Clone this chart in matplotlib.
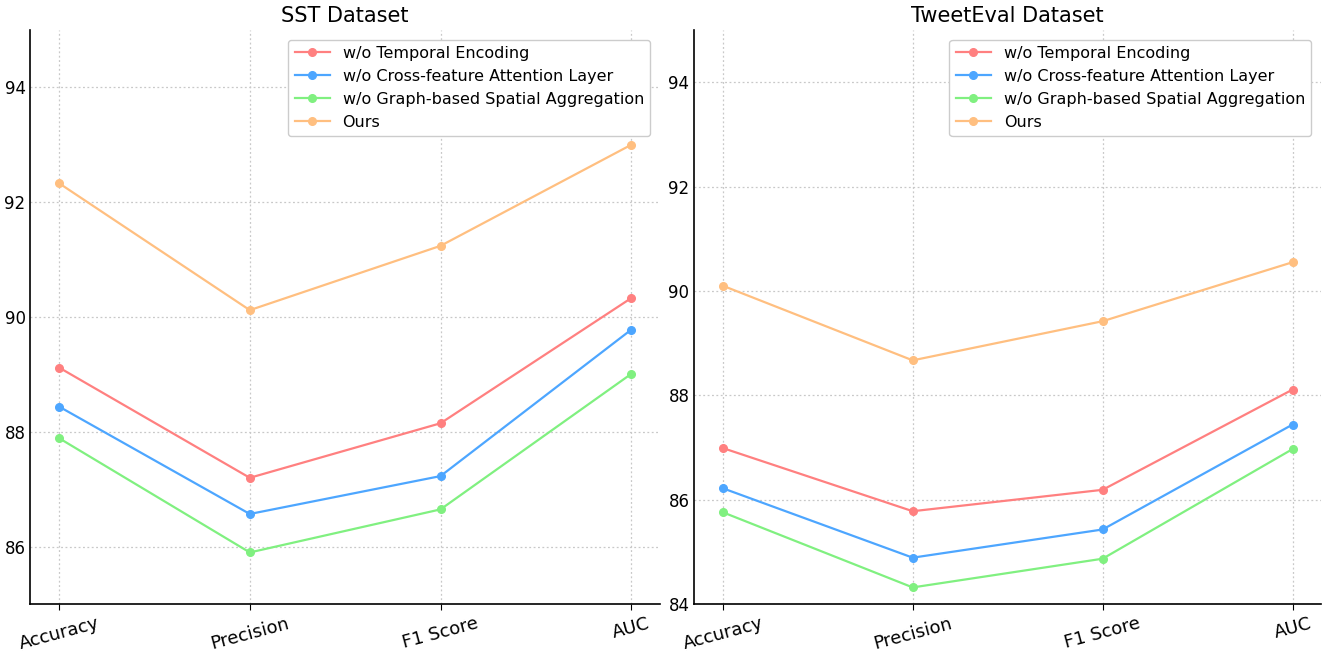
import matplotlib.pyplot as plt

metrics = ["Accuracy", "Precision", "F1 Score", "AUC"]
labels = [
    "w/o Temporal Encoding",
    "w/o Cross-feature Attention Layer",
    "w/o Graph-based Spatial Aggregation",
    "Ours",
]
colors = ["#ff8080", "#4da6ff", "#80f080", "#ffbf80"]

# SST dataset
sst_temporal = [89.12, 87.20, 88.15, 90.33]
sst_cross = [88.44, 86.57, 87.23, 89.78]
sst_graph = [87.89, 85.90, 86.65, 89.01]
sst_ours = [92.33, 90.12, 91.24, 93.00]

# TweetEval dataset
tweet_temporal = [86.99, 85.78, 86.19, 88.11]
tweet_cross = [86.22, 84.89, 85.43, 87.44]
tweet_graph = [85.76, 84.32, 84.87, 86.97]
tweet_ours = [90.10, 88.67, 89.42, 90.55]

panels = [
    ("SST Dataset", [sst_temporal, sst_cross, sst_graph, sst_ours], (85, 95)),
    ("TweetEval Dataset", [tweet_temporal, tweet_cross, tweet_graph, tweet_ours], (84, 95)),
]

fig = plt.figure(figsize=(13.25, 6.51), dpi=100)
boxes = [[0.023, 0.072, 0.475, 0.882], [0.524, 0.072, 0.473, 0.882]]

for box, (title, series, ylim) in zip(boxes, panels):
    ax = fig.add_axes(box)
    for values, label, color in zip(series, labels, colors):
        ax.plot(metrics, values, marker="o", markersize=5.5, linewidth=1.6, color=color, label=label)
    ax.set_title(title, fontsize=15)
    ax.set_ylim(*ylim)
    ax.set_xlim(-0.15, 3.15)
    ax.set_yticks(range(ylim[0] + ylim[0] % 2, 95, 2))
    ax.grid(True, linestyle=(0, (1.5, 2)), color="#c8c8c8", linewidth=0.9)
    ax.spines["top"].set_visible(False)
    ax.spines["right"].set_visible(False)
    ax.spines["left"].set_linewidth(1.2)
    ax.spines["bottom"].set_linewidth(1.2)
    ax.tick_params(axis="x", labelsize=13, rotation=15, length=4)
    ax.tick_params(axis="y", labelsize=12, length=0)
    ax.legend(loc="upper right", fontsize=11.5, framealpha=1, edgecolor="#cccccc",
              borderaxespad=0.6, handlelength=2.2)

fig.savefig("out.png", dpi=100)
